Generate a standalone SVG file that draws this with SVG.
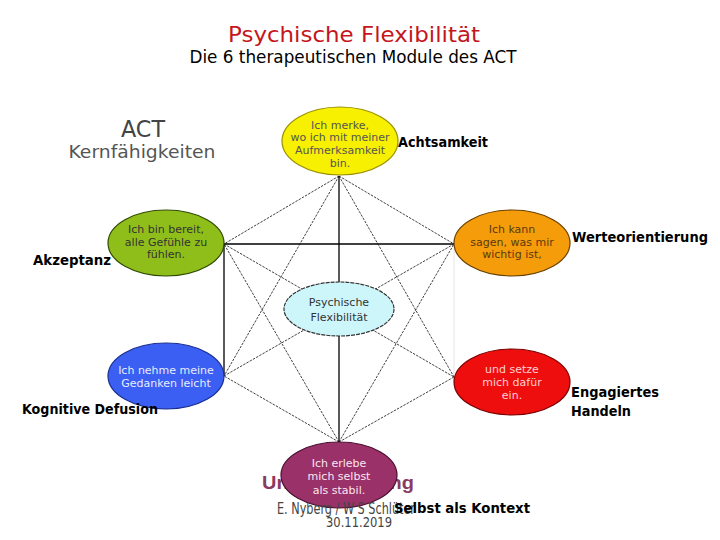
<svg xmlns="http://www.w3.org/2000/svg" width="720" height="540" viewBox="0 0 720 540">
<style>
.comic{font-family:"DejaVu Sans","Liberation Sans",sans-serif;fill:#000}
.lbl{font-size:14.5px;font-weight:bold}
.nt{font-family:"DejaVu Sans","Liberation Sans",sans-serif;font-size:11px;text-anchor:middle}
.sol{stroke:#000;stroke-width:1.3;fill:none}
.dash{stroke:#111;stroke-width:0.8;stroke-dasharray:2.5 1.2;fill:none}
.node{stroke-width:1.2}
</style>
<rect width="720" height="540" fill="#fff"/>
<g id="titles">
<text class="comic" x="354" y="42" font-size="21" style="fill:#c4161c" text-anchor="middle" textLength="252" lengthAdjust="spacingAndGlyphs">Psychische Flexibilität</text>
<text class="comic" x="353" y="63" font-size="17" text-anchor="middle" textLength="327" lengthAdjust="spacingAndGlyphs">Die 6 therapeutischen Module des ACT</text>
<text x="143" y="137" font-family="DejaVu Sans,sans-serif" font-size="23" fill="#444" text-anchor="middle" textLength="44" lengthAdjust="spacingAndGlyphs">ACT</text>
<text x="142" y="158" font-family="DejaVu Sans,sans-serif" font-size="18.5" fill="#555" text-anchor="middle" textLength="147" lengthAdjust="spacingAndGlyphs">Kernfähigkeiten</text>
</g>
<text x="338" y="489" font-family="Liberation Sans,sans-serif" font-size="19" font-weight="bold" fill="#8b3a62" text-anchor="middle" textLength="152" lengthAdjust="spacingAndGlyphs">Unterscheidung</text>
<g id="connectors">
<line class="sol" x1="339" y1="176" x2="339" y2="442"/>
<line class="sol" x1="224" y1="244" x2="454" y2="244"/>
<line class="sol" x1="224" y1="244" x2="224" y2="376"/>
<line x1="454" y1="244" x2="454" y2="377" stroke="#e4e4e4" stroke-width="1"/>
<line class="dash" x1="339" y1="176" x2="224" y2="244"/>
<line class="dash" x1="339" y1="176" x2="454" y2="244"/>
<line class="dash" x1="339" y1="176" x2="224" y2="376"/>
<line class="dash" x1="339" y1="176" x2="454" y2="377"/>
<line class="dash" x1="339" y1="442" x2="224" y2="244"/>
<line class="dash" x1="339" y1="442" x2="454" y2="244"/>
<line class="dash" x1="339" y1="442" x2="224" y2="376"/>
<line class="dash" x1="339" y1="442" x2="454" y2="377"/>
<line class="dash" x1="224" y1="244" x2="454" y2="377"/>
<line class="dash" x1="454" y1="244" x2="224" y2="376"/>
</g>
<g id="node-achtsamkeit">
<ellipse class="node" cx="340" cy="141" rx="58" ry="34" fill="#f7f000" stroke="#9a9000"/>
<text class="nt" fill="#555" x="340" y="129">Ich merke,</text>
<text class="nt" fill="#555" x="340" y="141">wo ich mit meiner</text>
<text class="nt" fill="#555" x="340" y="154">Aufmerksamkeit</text>
<text class="nt" fill="#555" x="340" y="167">bin.</text>
<text class="comic lbl" x="398" y="147" textLength="90" lengthAdjust="spacingAndGlyphs">Achtsamkeit</text>
</g>
<g id="node-akzeptanz">
<ellipse class="node" cx="166" cy="243" rx="58" ry="33" fill="#8fbe1a" stroke="#2f4a00"/>
<text class="nt" fill="#333" x="166" y="233">Ich bin bereit,</text>
<text class="nt" fill="#333" x="166" y="246">alle Gefühle zu</text>
<text class="nt" fill="#333" x="166" y="258">fühlen.</text>
<text class="comic lbl" x="33" y="265" textLength="78" lengthAdjust="spacingAndGlyphs">Akzeptanz</text>
</g>
<g id="node-werte">
<ellipse class="node" cx="512" cy="243" rx="58" ry="33" fill="#f59c0a" stroke="#6a4000"/>
<text class="nt" fill="#5a3a10" x="512" y="233">Ich kann</text>
<text class="nt" fill="#5a3a10" x="512" y="246">sagen, was mir</text>
<text class="nt" fill="#5a3a10" x="512" y="258">wichtig ist,</text>
<text class="comic lbl" x="572" y="242" textLength="136" lengthAdjust="spacingAndGlyphs">Werteorientierung</text>
</g>
<g id="node-defusion">
<ellipse class="node" cx="166" cy="376" rx="58" ry="33" fill="#3a5ff2" stroke="#1a2f90"/>
<text class="nt" fill="#e8ecff" x="166" y="374">Ich nehme meine</text>
<text class="nt" fill="#e8ecff" x="166" y="387">Gedanken leicht</text>
<text class="comic lbl" x="22" y="414" textLength="136" lengthAdjust="spacingAndGlyphs">Kognitive Defusion</text>
</g>
<g id="node-handeln">
<ellipse class="node" cx="512" cy="382" rx="58" ry="33" fill="#ee0e0e" stroke="#7a0000"/>
<text class="nt" fill="#ffd0d0" x="512" y="373">und setze</text>
<text class="nt" fill="#ffd0d0" x="512" y="386">mich dafür</text>
<text class="nt" fill="#ffd0d0" x="512" y="399">ein.</text>
<text class="comic lbl" x="571" y="397" textLength="88" lengthAdjust="spacingAndGlyphs">Engagiertes</text>
<text class="comic lbl" x="571" y="416" textLength="60" lengthAdjust="spacingAndGlyphs">Handeln</text>
</g>
<g id="node-selbst">
<ellipse class="node" cx="339" cy="475" rx="58" ry="33" fill="#9a3168" stroke="#4a1030"/>
<text class="nt" fill="#fbe6f0" x="339" y="467">Ich erlebe</text>
<text class="nt" fill="#fbe6f0" x="339" y="480">mich selbst</text>
<text class="nt" fill="#fbe6f0" x="339" y="494">als stabil.</text>
</g>
<g id="footer">
<text x="346" y="514" font-family="DejaVu Sans,sans-serif" font-size="15" fill="#444" text-anchor="middle" textLength="138" lengthAdjust="spacingAndGlyphs">E. Nyberg / W S Schlüter</text>
<text x="359" y="527" font-family="DejaVu Sans,sans-serif" font-size="14" fill="#444" text-anchor="middle" textLength="66" lengthAdjust="spacingAndGlyphs">30.11.2019</text>
<text class="comic lbl" x="394" y="513" textLength="136" lengthAdjust="spacingAndGlyphs">Selbst als Kontext</text>
</g>
<g id="node-center">
<ellipse class="node" cx="339" cy="309" rx="55" ry="27" fill="#cdf6fb" stroke="#333" stroke-dasharray="4 1"/>
<text class="nt" font-size="12.5" fill="#333" x="339" y="306">Psychische</text>
<text class="nt" font-size="12.5" fill="#333" x="339" y="321">Flexibilität</text>
</g>
</svg>
